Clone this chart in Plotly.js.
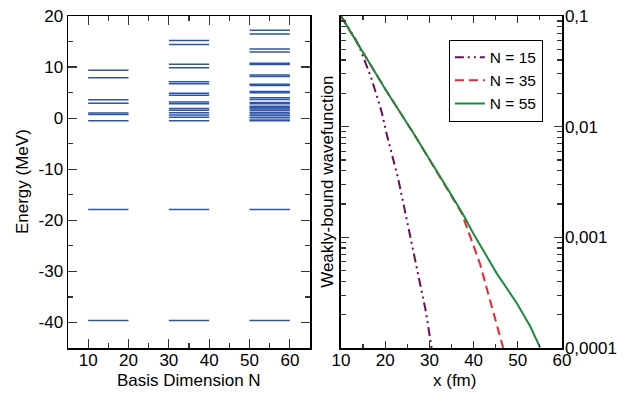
<!DOCTYPE html>
<html>
<head>
<meta charset="utf-8">
<script src="https://cdn.plot.ly/plotly-3.0.1.min.js"></script>
<style>html,body{margin:0;padding:0;background:#fff;}#chart{width:628px;height:398px;}</style>
</head>
<body>
<div id="chart"></div>
<script>
// ---- Data: energy levels (MeV) for each basis dimension N ----
const basisN = [15, 35, 55];
const levelsN15 = [9.4, 7.9, 3.6, 2.9, 1.0, 0.7, -0.5, -17.9, -39.6];
const levelsN35 = [15.2, 14.4, 10.55, 9.85, 7.15, 6.75, 4.9, 4.5, 3.15, 2.8, 1.9, 1.55, 1.05, 0.6, 0.2, -0.5, -17.9, -39.6];
const levelsN55 = [17.2, 16.5, 13.55, 12.95, 10.75, 10.5, 8.45, 8.15, 6.65, 6.4, 5.2, 4.95, 4.0, 3.65, 3.05, 2.8, 2.35, 2.05, 1.8, 1.5, 1.1, 0.8, 0.45, 0.1, -0.35, -0.5, -17.9, -39.6];
const energyTickVals = [20, 10, 0, -10, -20, -30, -40];
const energyTickText = ['20', '10', '0', '-10', '-20', '-30', '-40'];
const nTickVals = [10, 20, 30, 40, 50, 60];

// ---- Data: weakly-bound wavefunction vs x (fm) ----
const xN15 = [10, 12, 13.2, 14.3, 16.9, 19.2, 20.3, 23.0, 24.5, 26.1, 27.7, 29.2, 30.5];
const wN15 = [0.1, 0.0741, 0.0625, 0.0508, 0.0272, 0.0136, 0.00871, 0.00331, 0.0017, 0.000851, 0.000427, 0.000214, 0.0001];
const xN35 = [10, 20, 26.4, 30, 34.7, 36, 37.3, 41.4, 44.1, 46.7];
const wN35 = [0.1, 0.0219, 0.00871, 0.00501, 0.00251, 0.00204, 0.00166, 0.000585, 0.000237, 0.0001];
const xN55 = [10, 20, 26.4, 30, 34.7, 37.7, 39.9, 45.2, 49.75, 52.8, 55.0];
const wN55 = [0.1, 0.0219, 0.00871, 0.00501, 0.00251, 0.00159, 0.00109, 0.000475, 0.000255, 0.000157, 0.000102];
const xTickVals = [10, 20, 30, 40, 50, 60];
const yTickVals = [0.1, 0.01, 0.001, 0.0001];
const yTickText = ['0,1', '0,01', '0,001', '0,0001'];

// ---- build level segments ----
const halfWidth = 5;
const levelSets = [levelsN15, levelsN35, levelsN55];
const lx = [], ly = [];
levelSets.forEach((lev, i) => {
  lev.forEach(e => {
    lx.push(basisN[i] - halfWidth, basisN[i] + halfWidth, null);
    ly.push(e, e, null);
  });
});

const minorLog = [];
for (let d = -4; d < -1; d++) {
  for (let m = 2; m <= 9; m++) minorLog.push(m * Math.pow(10, d));
}

const FONT = '"Liberation Sans", Arial, Helvetica, sans-serif';

const traces = [
  {x: lx, y: ly, type: 'scatter', mode: 'lines', xaxis: 'x', yaxis: 'y',
   line: {color: '#2d55a8', width: 1.5}, showlegend: false, hoverinfo: 'skip'},
  {x: xN15, y: wN15, type: 'scatter', mode: 'lines', xaxis: 'x2', yaxis: 'y2', name: 'N = 15',
   line: {color: '#6a0d54', width: 2, dash: '9px,4px,2px,4px,2px,4px'}},
  {x: xN35, y: wN35, type: 'scatter', mode: 'lines', xaxis: 'x2', yaxis: 'y2', name: 'N = 35',
   line: {color: '#f0222e', width: 2, dash: '9px,5px'}},
  {x: xN55, y: wN55, type: 'scatter', mode: 'lines', xaxis: 'x2', yaxis: 'y2', name: 'N = 55',
   line: {color: '#1a8a3e', width: 2}}
];

const axBase = {
  showline: true, linecolor: '#000', linewidth: 1.5, mirror: 'ticks',
  ticks: 'inside', ticklen: 9, tickwidth: 1.2, tickcolor: '#333',
  showgrid: false, zeroline: false,
  tickfont: {family: FONT, size: 17, color: '#000'}
};

const layout = {
  width: 628, height: 398,
  margin: {l: 68, r: 66, t: 16, b: 50},
  paper_bgcolor: '#fff', plot_bgcolor: '#fff',
  font: {family: FONT, size: 17, color: '#000'},
  xaxis: Object.assign({}, axBase, {
    domain: [0, 0.49], range: [5, 65], tickmode: 'array', tickvals: nTickVals,
    ticklabelstandoff: -4,
    minor: {tickvals: [15, 25, 35, 45, 55], ticks: 'inside', ticklen: 5, tickcolor: '#333'}
  }),
  yaxis: Object.assign({}, axBase, {
    range: [-45, 20], tickmode: 'array', tickvals: energyTickVals, ticktext: energyTickText,
    minor: {tickvals: [15, 5, -5, -15, -25, -35], ticks: 'inside', ticklen: 5, tickcolor: '#333'}
  }),
  xaxis2: Object.assign({}, axBase, {
    domain: [0.5526, 1], anchor: 'y2', range: [10, 60], tickmode: 'array', tickvals: xTickVals,
    ticklen: 7, ticklabelstandoff: -4,
    minor: {tickvals: [15, 25, 35, 45, 55], ticks: 'inside', ticklen: 4, tickcolor: '#333'}
  }),
  yaxis2: Object.assign({}, axBase, {
    type: 'log', anchor: 'x2', side: 'right', range: [-4, -1],
    tickmode: 'array', tickvals: yTickVals, ticktext: yTickText, ticklen: 8,
    ticklabelstandoff: -2,
    minor: {tickvals: minorLog, ticks: 'inside', ticklen: 5, tickcolor: '#333'}
  }),
  showlegend: true,
  legend: {
    x: 0.771, y: 0.929, xanchor: 'left', yanchor: 'top',
    bgcolor: '#fff', bordercolor: '#000', borderwidth: 1,
    font: {family: FONT, size: 15.5, color: '#000'},
    itemwidth: 30, tracegroupgap: 0
  },
  annotations: [
    {text: 'Energy (MeV)', xref: 'paper', yref: 'paper', x: -0.093, y: 0.5, textangle: -90,
     showarrow: false, xanchor: 'center', yanchor: 'middle', font: {family: FONT, size: 17}},
    {text: 'Basis Dimension N', xref: 'paper', yref: 'paper', x: 0.245, y: -0.099,
     showarrow: false, xanchor: 'center', yanchor: 'middle', font: {family: FONT, size: 17}},
    {text: 'x (fm)', xref: 'paper', yref: 'paper', x: 0.783, y: -0.099,
     showarrow: false, xanchor: 'center', yanchor: 'middle', font: {family: FONT, size: 17}},
    {text: 'Weakly-bound wavefunction', xref: 'paper', yref: 'paper', x: 0.524, y: 0.5, textangle: -90,
     showarrow: false, xanchor: 'center', yanchor: 'middle', font: {family: FONT, size: 17}}
  ]
};

Plotly.newPlot('chart', traces, layout, {displayModeBar: false, staticPlot: true});
</script>
</body>
</html>
